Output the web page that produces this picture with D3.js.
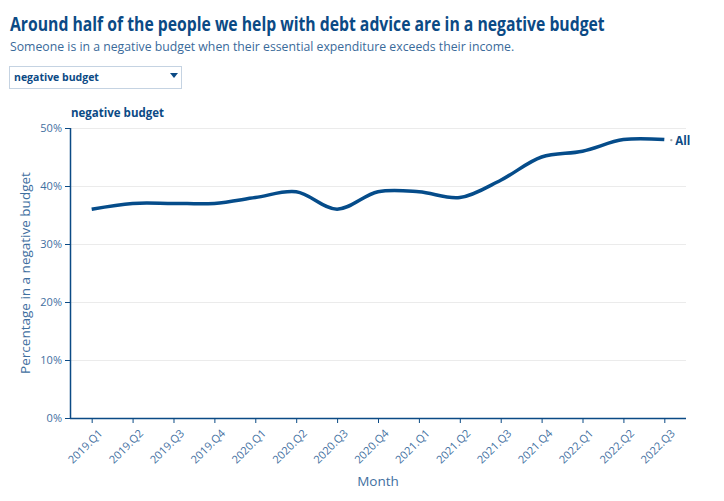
<!DOCTYPE html>
<html><head><meta charset="utf-8">
<script src="https://cdn.jsdelivr.net/npm/d3@7"></script>
<style>body{margin:0;background:#fff;} text{font-family:"Open Sans",sans-serif;}</style>
</head><body>
<svg id="c" width="724" height="501"></svg>
<script>
const categories = ["2019.Q1","2019.Q2","2019.Q3","2019.Q4","2020.Q1","2020.Q2","2020.Q3","2020.Q4","2021.Q1","2021.Q2","2021.Q3","2021.Q4","2022.Q1","2022.Q2","2022.Q3"];
const allValues = [36,37,37,37,38,39,36,39,39,38,41,45,46,48,48];
const yTicks = [0,10,20,30,40,50];
const seriesName = "All";

const dark = "#0b4a85", tickCol = "#3f6f9f";
const svg = d3.select("#c");
const L = 70, R = 686, T = 128, B = 418;

function fitText(sel, x0, y0, width){
  const w = sel.node().getComputedTextLength();
  const s = width / w;
  sel.attr("x",0).attr("y",0).attr("transform",`translate(${x0},${y0}) scale(${s},1)`);
}
fitText(svg.append("text").attr("fill",dark).attr("font-size",19).attr("font-weight",700)
  .text("Around half of the people we help with debt advice are in a negative budget"), 10, 31, 595);
fitText(svg.append("text").attr("fill","#3a6a9a").attr("font-size",13)
  .text("Someone is in a negative budget when their essential expenditure exceeds their income."), 10, 51, 505);

// dropdown
svg.append("rect").attr("x",9.5).attr("y",66.5).attr("width",172).attr("height",22).attr("fill","#fff").attr("stroke","#c5d3e2");
svg.append("text").attr("x",14).attr("y",81).attr("fill",dark).attr("font-size",10.5).attr("font-weight",700).text("negative budget");
svg.append("path").attr("d","M170,73 L178,73 L174,78 Z").attr("fill",dark);

svg.append("text").attr("x",71).attr("y",117).attr("fill",dark).attr("font-size",11.5).attr("font-weight",700).text("negative budget");

const x = d3.scalePoint().domain(categories).range([L,R]).padding(0.53);
const y = d3.scaleLinear().domain([0,50]).range([B,T]);

// grid
svg.append("g").selectAll("line").data(yTicks.filter(d=>d>0)).join("line")
  .attr("x1",L).attr("x2",R).attr("y1",d=>y(d)+0.5).attr("y2",d=>y(d)+0.5).attr("stroke","#ebebeb");

const yAxis = svg.append("g").attr("transform",`translate(${L},0)`)
  .call(d3.axisLeft(y).tickValues(yTicks).tickFormat(d=>d+"%").tickSize(5).tickPadding(3));
const xAxis = svg.append("g").attr("transform",`translate(0,${B})`)
  .call(d3.axisBottom(x).tickSize(5).tickPadding(3));
[yAxis,xAxis].forEach(g=>{
  g.select(".domain").attr("stroke",dark).attr("stroke-width",1.5);
  g.selectAll(".tick line").attr("stroke",dark);
  g.selectAll(".tick text").attr("fill",tickCol).attr("font-size",11).attr("font-family","Open Sans, sans-serif");
});
xAxis.select(".domain").attr("d",`M${L},0.5H${R}`);
yAxis.select(".domain").attr("d",`M0.5,${T}V${B}`);
xAxis.selectAll(".tick text").attr("text-anchor","end").attr("dy","0.3em")
  .attr("transform","translate(3,8) rotate(-45)");

svg.append("text").attr("transform",`translate(30,273) rotate(-90)`).attr("text-anchor","middle")
  .attr("fill",tickCol).attr("font-size",13.5).text("Percentage in a negative budget");
svg.append("text").attr("x",378).attr("y",486).attr("text-anchor","middle")
  .attr("fill",tickCol).attr("font-size",13.5).text("Month");

const line = d3.line().x((d,i)=>x(categories[i])).y(d=>y(d)).curve(d3.curveCatmullRom.alpha(0.5));
svg.append("path").datum(allValues).attr("d",line).attr("fill","none").attr("stroke","#054c8a").attr("stroke-width",3.5);

const last = allValues.length-1;
svg.append("circle").attr("cx",x(categories[last])+7).attr("cy",y(allValues[last])+0.5).attr("r",1.2).attr("fill","#aaa");
svg.append("text").attr("x",x(categories[last])+11).attr("y",y(allValues[last])+5).attr("fill",dark)
  .attr("font-size",11.5).attr("font-weight",700).text(seriesName);
</script>
</body></html>
